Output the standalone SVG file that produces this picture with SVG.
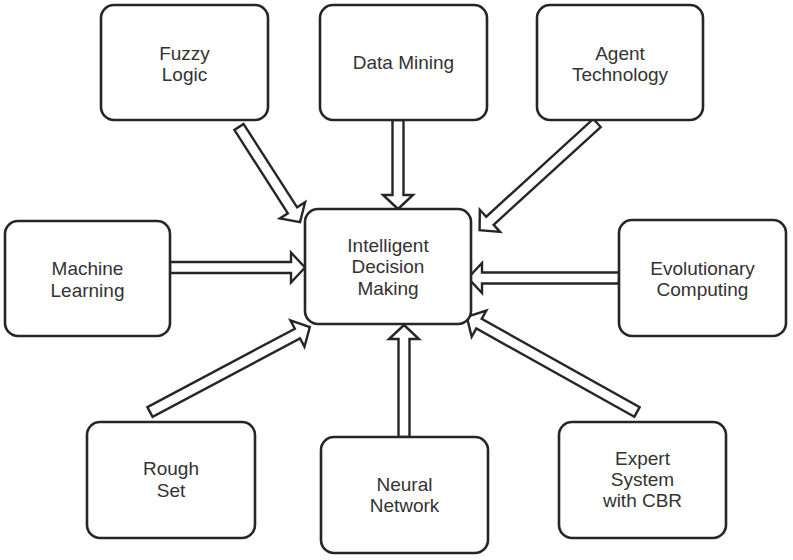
<svg xmlns="http://www.w3.org/2000/svg" width="793" height="560" viewBox="0 0 793 560">
<style>
.box{fill:#fff;stroke:#262626;stroke-width:2.6}
.lbl{font-family:"Liberation Sans",Arial,sans-serif;font-size:19px;fill:#333;text-anchor:middle}
.arr{fill:#fff;stroke:#262626;stroke-width:2.4;stroke-linejoin:miter}
</style>
<rect width="793" height="560" fill="#fff"/>
<g id="connectors">
<polygon class="arr" transform="translate(239,127) rotate(57.3)" points="0,-5.5 99,-5.5 99,-15 113,0 99,15 99,5.5 0,5.5"/>
<polygon class="arr" transform="translate(398,120) rotate(90)" points="0,-5.5 75,-5.5 75,-15 89,0 75,15 75,5.5 0,5.5"/>
<polygon class="arr" transform="translate(597,123) rotate(137.6)" points="0,-5.5 145,-5.5 145,-15 159,0 145,15 145,5.5 0,5.5"/>
<polygon class="arr" transform="translate(170,267.5)" points="0,-5.5 121,-5.5 121,-15 135,0 121,15 121,5.5 0,5.5"/>
<polygon class="arr" transform="translate(619,278) rotate(180)" points="0,-5.5 137,-5.5 137,-15 151,0 137,15 137,5.5 0,5.5"/>
<polygon class="arr" transform="translate(150,412) rotate(-28)" points="0,-5.5 167,-5.5 167,-15 181,0 167,15 167,5.5 0,5.5"/>
<polygon class="arr" transform="translate(404,437) rotate(-90)" points="0,-5.5 98,-5.5 98,-15 112,0 98,15 98,5.5 0,5.5"/>
<polygon class="arr" transform="translate(637,412) rotate(-150.8)" points="0,-5.5 181,-5.5 181,-15 195,0 181,15 181,5.5 0,5.5"/>
</g>
<g id="fuzzy-logic">
<rect class="box" x="101" y="5" width="167" height="115" rx="13"/>
<text class="lbl" x="184.5" y="60">Fuzzy</text>
<text class="lbl" x="184.5" y="81">Logic</text>
</g>
<g id="data-mining">
<rect class="box" x="320" y="5" width="167" height="115" rx="13"/>
<text class="lbl" x="403.5" y="69">Data Mining</text>
</g>
<g id="agent-technology">
<rect class="box" x="537" y="5" width="166" height="115" rx="13"/>
<text class="lbl" x="620" y="60">Agent</text>
<text class="lbl" x="620" y="81">Technology</text>
</g>
<g id="machine-learning">
<rect class="box" x="5" y="221" width="165" height="115" rx="13"/>
<text class="lbl" x="87.5" y="275">Machine</text>
<text class="lbl" x="87.5" y="297">Learning</text>
</g>
<g id="intelligent-decision-making">
<rect class="box" x="305" y="209" width="166" height="115" rx="13"/>
<text class="lbl" x="388" y="252">Intelligent</text>
<text class="lbl" x="388" y="273">Decision</text>
<text class="lbl" x="388" y="295">Making</text>
</g>
<g id="evolutionary-computing">
<rect class="box" x="619" y="220" width="167" height="116" rx="13"/>
<text class="lbl" x="702.5" y="275">Evolutionary</text>
<text class="lbl" x="702.5" y="296">Computing</text>
</g>
<g id="rough-set">
<rect class="box" x="87" y="422" width="168" height="116" rx="13"/>
<text class="lbl" x="171" y="475">Rough</text>
<text class="lbl" x="171" y="497">Set</text>
</g>
<g id="neural-network">
<rect class="box" x="321" y="437" width="167" height="116" rx="13"/>
<text class="lbl" x="404.5" y="491">Neural</text>
<text class="lbl" x="404.5" y="512">Network</text>
</g>
<g id="expert-system">
<rect class="box" x="559" y="422" width="167" height="116" rx="13"/>
<text class="lbl" x="642.5" y="465">Expert</text>
<text class="lbl" x="642.5" y="486">System</text>
<text class="lbl" x="642.5" y="507">with CBR</text>
</g>
</svg>
